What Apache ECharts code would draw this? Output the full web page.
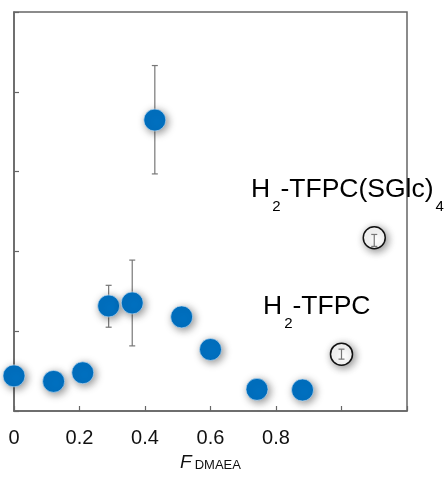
<!DOCTYPE html>
<html>
<head>
<meta charset="utf-8">
<script src="https://cdn.jsdelivr.net/npm/echarts@6/dist/echarts.min.js"></script>
<style>
  html, body { margin: 0; padding: 0; background: #fff; }
  #chart { width: 445px; height: 477px; }
</style>
</head>
<body>
<div id="chart"></div>
<script>
// filled points (F_DMAEA vs value)
const blueX = [0, 0.121, 0.210, 0.289, 0.361, 0.430, 0.512, 0.600, 0.742, 0.881];
const blueY = [0.44, 0.371, 0.479, 1.316, 1.354, 3.646, 1.179, 0.771, 0.271, 0.263];
// error bars on filled points
const errX = [0.289, 0.361, 0.430];
const errLow = [1.05, 0.816, 2.971];
const errHigh = [1.575, 1.891, 4.329];
// open reference points: H2-TFPC, H2-TFPC(SGlc)4
const openX = [1.0, 1.1];
const openY = [0.7125, 2.171];
const openErrLow = [0.65, 2.0625];
const openErrHigh = [0.775, 2.2125];
const xLabels = ['0', '0.2', '0.4', '0.6', '0.8'];

const font = '"Liberation Sans", Arial, sans-serif';
const axisColor = '#666';

const chart = echarts.init(document.getElementById('chart'), null, { renderer: 'canvas' });

const errStyle = { stroke: '#777', lineWidth: 1.2 };
const renderErr = (params, api) => {
  const x = api.value(0);
  const top = api.coord([x, api.value(2)]);
  const bot = api.coord([x, api.value(1)]);
  const hw = 3;
  return {
    type: 'group',
    children: [
      { type: 'line', shape: { x1: top[0], y1: top[1], x2: bot[0], y2: bot[1] }, style: errStyle },
      { type: 'line', shape: { x1: top[0] - hw, y1: top[1], x2: top[0] + hw, y2: top[1] }, style: errStyle },
      { type: 'line', shape: { x1: bot[0] - hw, y1: bot[1], x2: bot[0] + hw, y2: bot[1] }, style: errStyle },
    ],
  };
};

const mainRich = {
  m: { fontSize: 26.5, lineHeight: 26, verticalAlign: 'top', fontFamily: font, color: '#111' },
  s: { fontSize: 15, lineHeight: 15, verticalAlign: 'top', padding: [23, 0, 0, 2], fontFamily: font, color: '#111' },
};

const option = {
  animation: false,
  grid: {
    left: 14, right: 38, top: 12, bottom: 66,
    outerBoundsMode: 'none',
    containLabel: false,
    show: true, borderColor: axisColor, borderWidth: 1.5,
  },
  xAxis: {
    type: 'value',
    min: 0, max: 1.2, interval: 0.2,
    name: '{f|F}{s|DMAEA}',
    nameLocation: 'middle',
    nameGap: 42,
    nameTextStyle: {
      rich: {
        f: { fontSize: 19, lineHeight: 19, fontStyle: 'italic', verticalAlign: 'top', fontFamily: font, color: '#111' },
        s: { fontSize: 13, lineHeight: 13, verticalAlign: 'top', padding: [6, 0, 0, 3], fontFamily: font, color: '#111' },
      },
    },
    axisLine: { lineStyle: { color: axisColor, width: 1.5 } },
    axisTick: { inside: true, length: 5, lineStyle: { color: axisColor, width: 1.2 } },
    axisLabel: {
      margin: 17,
      fontSize: 20,
      fontFamily: font,
      color: '#111',
      formatter: (v) => {
        const i = Math.round(v / 0.2);
        return i < xLabels.length ? xLabels[i] : '';
      },
    },
    splitLine: { show: false },
  },
  yAxis: {
    type: 'value',
    min: 0, max: 5, interval: 1,
    axisLine: { show: true, lineStyle: { color: axisColor, width: 1.5 } },
    axisTick: { show: true, inside: true, length: 5, lineStyle: { color: axisColor, width: 1.2 } },
    axisLabel: { show: false },
    splitLine: { show: false },
  },
  graphic: [
    {
      type: 'text', left: 251, top: 176, z: 10,
      style: { text: '{m|H}{s|2}{m|-TFPC(SGlc)}{s|4}', rich: mainRich },
    },
    {
      type: 'text', left: 263, top: 293, z: 10,
      style: { text: '{m|H}{s|2}{m|-TFPC}', rich: mainRich },
    },
  ],
  series: [
    {
      type: 'custom',
      z: 1,
      renderItem: renderErr,
      encode: { x: 0, y: [1, 2] },
      data: errX.map((x, i) => [x, errLow[i], errHigh[i]]),
    },
    {
      type: 'scatter',
      z: 2,
      symbolSize: 22,
      itemStyle: {
        color: '#0070C0',
        borderColor: 'rgba(200,225,245,0.8)',
        borderWidth: 0.8,
        shadowBlur: 8,
        shadowColor: 'rgba(0,0,0,0.45)',
        shadowOffsetX: 2,
        shadowOffsetY: 2,
        opacity: 1,
      },
      data: blueX.map((x, i) => [x, blueY[i]]),
    },
    {
      type: 'scatter',
      z: 2,
      symbolSize: 22,
      itemStyle: {
        color: '#fff',
        borderColor: '#111',
        borderWidth: 1.5,
        shadowBlur: 8,
        shadowColor: 'rgba(0,0,0,0.45)',
        shadowOffsetX: 2,
        shadowOffsetY: 2,
        opacity: 1,
      },
      data: openX.map((x, i) => [x, openY[i]]),
    },
    {
      type: 'custom',
      z: 3,
      renderItem: renderErr,
      encode: { x: 0, y: [1, 2] },
      data: openX.map((x, i) => [x, openErrLow[i], openErrHigh[i]]),
    },
  ],
};

chart.setOption(option);
</script>
</body>
</html>
